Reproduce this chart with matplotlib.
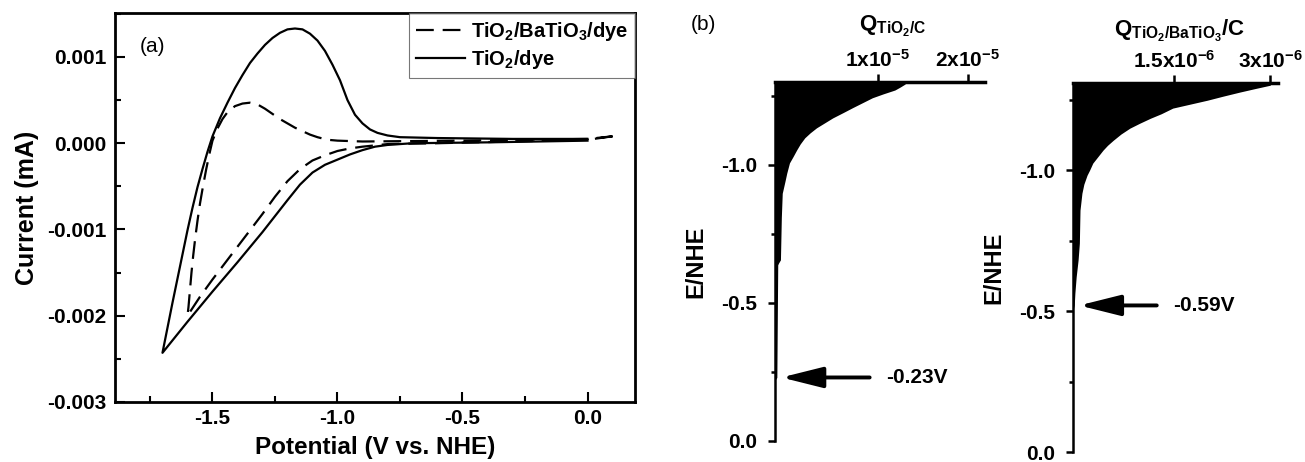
import matplotlib
matplotlib.use("Agg")
import matplotlib.pyplot as plt
from matplotlib.ticker import MultipleLocator, FormatStrFormatter

plt.rcParams['font.family'] = ['Liberation Sans', 'DejaVu Sans']
plt.rcParams['mathtext.default'] = 'regular'
plt.rcParams['axes.unicode_minus'] = False

# (a) cyclic voltammograms, potential (V vs NHE) and current (mA)
bto_E = [0.1, 0.0, -0.3, -0.6, -0.8, -0.9, -0.95, -1.0, -1.05, -1.1, -1.15, -1.2, -1.25, -1.3, -1.35, -1.4,
         -1.45, -1.5, -1.55, -1.6,
         -1.596, -1.59, -1.584, -1.577, -1.569, -1.56, -1.55, -1.538, -1.525, -1.512, -1.5, -1.48, -1.46,
         -1.44, -1.41, -1.38, -1.35, -1.32, -1.29, -1.26, -1.23, -1.2, -1.17, -1.14, -1.11, -1.08, -1.04,
         -1.0, -0.9, -0.5, 0.0, 0.1]
bto_I = [0.00008, 0.00004, 0.00002, 0.0, -0.00001, -0.00004, -0.00006, -0.00009, -0.00014, -0.0002, -0.0003,
         -0.00044, -0.00062, -0.00082, -0.00101, -0.0012, -0.00139, -0.00158, -0.00178, -0.002,
         -0.0019, -0.0017, -0.0015, -0.0013, -0.0011, -0.0009, -0.0007, -0.0005, -0.0003, -0.00012, 0.00003,
         0.00017, 0.00028, 0.00036, 0.00043, 0.00046, 0.00047, 0.00045, 0.0004, 0.00034, 0.00028, 0.00023,
         0.00018, 0.00014, 0.0001, 0.00007, 0.00004, 0.00003, 0.00002, 0.00003, 0.00005, 0.00008]

tio_E = [0.0, -0.4, -0.7, -0.8, -0.85, -0.9, -0.95, -1.0, -1.05, -1.1, -1.15, -1.2, -1.3, -1.4, -1.5, -1.6,
         -1.7,
         -1.68, -1.66, -1.64, -1.62, -1.6, -1.58, -1.56, -1.54, -1.52, -1.5, -1.47, -1.44, -1.41, -1.38,
         -1.35, -1.32, -1.29, -1.26, -1.23, -1.2, -1.17, -1.14, -1.11, -1.08, -1.05, -1.02, -0.99, -0.96,
         -0.93, -0.9, -0.87, -0.84, -0.8, -0.75, -0.6, -0.3, 0.0]
tio_I = [0.00003, 0.00001, 0.0, -0.00002, -0.00004, -0.00008, -0.00013, -0.00019, -0.00025, -0.00034, -0.00048,
         -0.00066, -0.00103, -0.00138, -0.00172, -0.00207, -0.00243,
         -0.00214, -0.00185, -0.00157, -0.00129, -0.00101, -0.00075, -0.00051, -0.0003, -0.0001, 0.00008,
         0.00029, 0.00047, 0.00064, 0.00079, 0.00093, 0.00104, 0.00114, 0.00122, 0.00128, 0.00132,
         0.00133, 0.00132, 0.00127, 0.00119, 0.00107, 0.00091, 0.00073, 0.0005, 0.00033, 0.00023, 0.00016,
         0.00012, 0.00009, 0.00007, 0.00006, 0.00005, 0.00005]

# (b) charge distribution vs E/NHE
q1_E = [-1.30, -1.292, -1.282, -1.271, -1.257, -1.243, -1.225, -1.207, -1.19, -1.17, -1.152, -1.134, -1.116,
        -1.098, -1.076, -1.054, -1.03, -1.007, -0.97, -0.94, -0.897, -0.81, -0.656, -0.645, -0.638, -0.23,
        -0.22, 0.0]
q1_Q = [1.32e-5, 1.30e-5, 1.25e-5, 1.19e-5, 1.06e-5, 0.94e-5, 0.83e-5, 0.72e-5, 0.62e-5, 0.50e-5, 0.41e-5,
        0.32e-5, 0.25e-5, 0.19e-5, 0.14e-5, 0.10e-5, 0.06e-5, 0.02e-5, -0.01e-5, -0.03e-5, -0.06e-5,
        -0.07e-5, -0.08e-5, -0.10e-5, -0.11e-5, -0.12e-5, -0.14e-5, -0.14e-5]
q2_E = [-1.309, -1.301, -1.29, -1.277, -1.262, -1.248, -1.234, -1.22, -1.2, -1.184, -1.166, -1.149, -1.128,
        -1.106, -1.088, -1.071, -1.048, -1.025, -1.0, -0.982, -0.95, -0.918, -0.858, -0.741, -0.681, -0.621,
        -0.564, -0.521, -0.50, 0.0]
q2_Q = [3.03e-6, 3.0e-6, 2.78e-6, 2.53e-6, 2.26e-6, 2.02e-6, 1.75e-6, 1.48e-6, 1.30e-6, 1.13e-6, 0.96e-6,
        0.81e-6, 0.67e-6, 0.55e-6, 0.46e-6, 0.39e-6, 0.31e-6, 0.23e-6, 0.18e-6, 0.14e-6, 0.09e-6, 0.06e-6,
        0.03e-6, 0.02e-6, 0.0, -0.03e-6, -0.05e-6, -0.06e-6, -0.08e-6, -0.08e-6]
onset1 = -0.23
onset2 = -0.52

fig = plt.figure(figsize=(13.05, 4.62), dpi=100)

# ---- panel (a)
ax = fig.add_axes([0.0881, 0.1299, 0.3985, 0.842])
ax.plot(bto_E, bto_I, color='black', lw=1.6, dashes=(8, 4), label='TiO$_2$/BaTiO$_3$/dye')
ax.plot(tio_E, tio_I, color='black', lw=1.6, label='TiO$_2$/dye')
ax.set_xlim(-1.89, 0.19)
ax.set_ylim(-0.003, 0.00151)
ax.xaxis.set_major_locator(MultipleLocator(0.5))
ax.xaxis.set_minor_locator(MultipleLocator(0.25))
ax.yaxis.set_major_locator(MultipleLocator(0.001))
ax.yaxis.set_minor_locator(MultipleLocator(0.0005))
ax.xaxis.set_major_formatter(FormatStrFormatter('%.1f'))
ax.yaxis.set_major_formatter(FormatStrFormatter('%.3f'))
ax.tick_params(which='both', direction='in', width=1.5, labelsize=15)
ax.tick_params(which='major', length=7)
ax.tick_params(which='minor', length=4)
ax.tick_params(axis='x', pad=5)
ax.tick_params(axis='y', pad=6)
for lab in ax.get_xticklabels() + ax.get_yticklabels():
    lab.set_fontweight('bold')
for s in ax.spines.values():
    s.set_linewidth(2)
ax.set_xlabel('Potential (V vs. NHE)', fontsize=17.5, fontweight='bold', labelpad=6)
ax.set_ylabel('Current (mA)', fontsize=18, fontweight='bold', labelpad=6)
ax.text(0.048, 0.9, '(a)', transform=ax.transAxes, fontsize=15)
leg = ax.legend(loc='upper right', borderaxespad=0, fancybox=False, handlelength=2.4,
                prop={'weight': 'bold', 'size': 14.5}, labelspacing=0.25, handletextpad=0.3,
                borderpad=0.35)
leg.get_frame().set_edgecolor('#555555')
leg.get_frame().set_linewidth(0.8)


def charge_panel(rect, E, Q, xlim, ylim, ticks, ticklabels, onset, arrow_x, note):
    a = fig.add_axes(rect)
    a.fill_betweenx(E, xlim[0], Q, color='black', lw=0)
    a.set_xlim(*xlim)
    a.set_ylim(*ylim)
    a.spines['right'].set_visible(False)
    a.spines['bottom'].set_visible(False)
    a.spines['left'].set_linewidth(1.8)
    a.spines['top'].set_linewidth(2.5)
    a.xaxis.tick_top()
    a.set_xticks(ticks)
    a.set_xticklabels(ticklabels, fontweight='bold', fontsize=14.5)
    a.yaxis.set_major_locator(MultipleLocator(0.5))
    a.yaxis.set_minor_locator(MultipleLocator(0.25))
    a.yaxis.set_major_formatter(FormatStrFormatter('%.1f'))
    a.tick_params(which='both', direction='out', width=1.8, labelsize=15)
    a.tick_params(which='major', length=5)
    a.tick_params(which='minor', length=3)
    a.tick_params(axis='y', pad=8)
    a.tick_params(axis='x', length=6, pad=2)
    for lab in a.get_yticklabels():
        lab.set_fontweight('bold')
    a.set_ylabel('E/NHE', fontsize=17, fontweight='bold', labelpad=10)
    a.annotate('', xy=(xlim[0] + 0.03 * (xlim[1] - xlim[0]), onset), xytext=(arrow_x, onset),
               arrowprops=dict(arrowstyle='-|>,head_length=1.8,head_width=0.45', color='black',
                               lw=2.8, mutation_scale=14, shrinkA=0, shrinkB=0))
    a.text(arrow_x + 0.08 * (xlim[1] - xlim[0]), onset, note, fontsize=15, fontweight='bold',
           va='center', ha='left')
    return a


charge_panel([0.5939, 0.0455, 0.1609, 0.777], q1_E, q1_Q, (-0.14e-5, 2.19e-5), (0, -1.30),
             [1e-5, 2e-5], ['1x10$^{-5}$', '2x10$^{-5}$'], onset1, 0.91e-5, '-0.23V')
charge_panel([0.8222, 0.0216, 0.1571, 0.7987], q2_E, q2_Q, (-0.08e-6, 3.125e-6), (0, -1.309),
             [1.5e-6, 3e-6], ['1.5x10$^{-6}$', '3x10$^{-6}$'], onset2, 1.23e-6, '-0.59V')

fig.text(0.529, 0.946, '(b)', fontsize=15, va='center')
fig.text(0.6843, 0.942, 'Q$_{TiO_2/C}$', fontsize=16, fontweight='bold', ha='center', va='center')
fig.text(0.904, 0.932, 'Q$_{TiO_2/BaTiO_3}$/C', fontsize=16, fontweight='bold', ha='center', va='center')

fig.savefig('out.png', dpi=100)
